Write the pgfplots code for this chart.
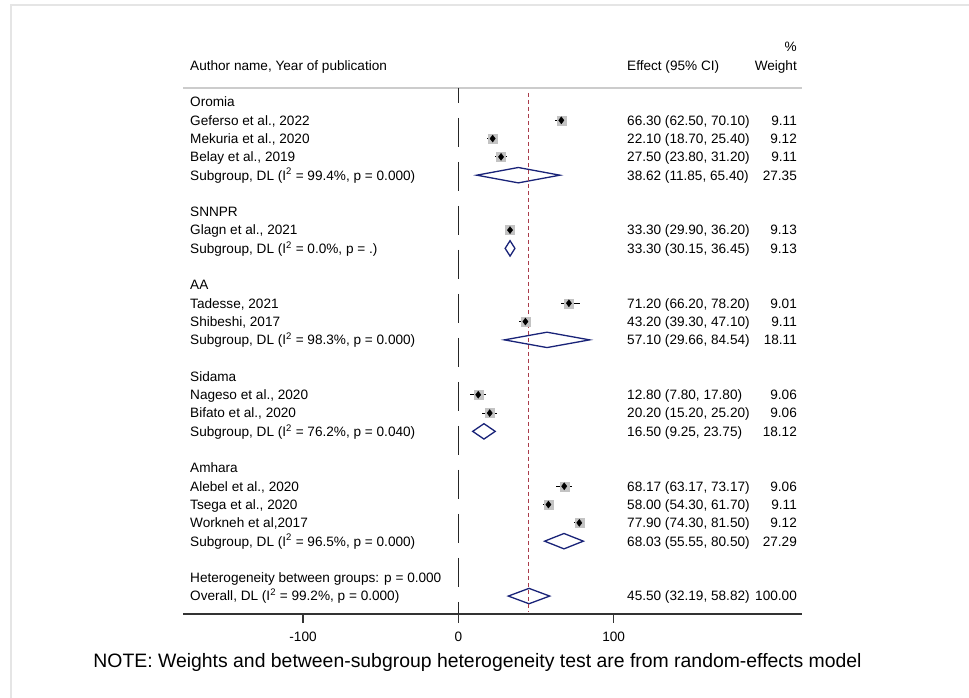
\documentclass[border=0pt]{standalone}
\usepackage{fontspec}
\setmainfont{Liberation Sans}
\usepackage{pgfplots}
\pgfplotsset{compat=1.18}
\usepackage{pgfplotstable}

\definecolor{dnavy}{RGB}{25,35,120}
\definecolor{refred}{RGB}{170,60,75}
\definecolor{boxgray}{RGB}{195,195,195}

\pgfplotstableread{
est lo hi row
66.30 62.50 70.10 2
22.10 18.70 25.40 3
27.50 23.80 31.20 4
33.30 29.90 36.20 8
71.20 66.20 78.20 12
43.20 39.30 47.10 13
12.80 7.80 17.80 17
20.20 15.20 25.20 18
68.17 63.17 73.17 22
58.00 54.30 61.70 23
77.90 74.30 81.50 24
}\studies

\newcommand{\tfont}{\fontsize{13.6}{16}\selectfont}
\newcommand{\lab}[2]{\node[anchor=base west, yshift=-4.9pt, inner sep=0, font=\tfont] at (axis cs:-172.8,-#1) {#2};}
\newcommand{\eff}[2]{\node[anchor=base west, yshift=-4.9pt, inner sep=0, font=\tfont] at (axis cs:108.6,-#1) {#2};}
\newcommand{\wt}[2]{\node[anchor=base east, yshift=-4.9pt, inner sep=0, font=\tfont] at (axis cs:218.1,-#1) {#2};}
\newcommand{\Isq}{I\textsuperscript{2}}

\begin{document}
\begin{tikzpicture}[x=1pt,y=1pt]
\useasboundingbox (0,0) rectangle (969,698);
\fill[white] (0,0) rectangle (969,698);
\draw[black!10, line width=1.5pt] (11,0) -- (11,693) -- (969,693);
\begin{axis}[
  at={(183pt,84pt)}, anchor=south west,
  scale only axis, width=619pt, height=526pt,
  xmin=-177.3, xmax=221.3, ymin=-28.98, ymax=-0.235,
  axis x line*=bottom, axis y line=none,
  x axis line style={black!80, line width=1.2pt, -},
  xtick={-100,0,100}, ytick=\empty,
  tick align=outside, major tick length=9pt,
  xtick style={black!80, line width=1.2pt},
  xticklabel style={font=\tfont, yshift=-5pt},
  /pgf/number format/assume math mode=true,
  clip=false,
]
% header separator
\addplot[black!20, line width=1.5pt] coordinates {(-177.3,-0.235) (221.3,-0.235)};
% null line
\addplot[black!85, line width=1.1pt, dash pattern=on 29pt off 15pt, dash phase=14pt] coordinates {(0,-0.235) (0,-28.98)};
% study boxes
\addplot[only marks, mark=square*, mark size=4.5pt, mark options={fill=boxgray, draw=boxgray}]
  table[x=est, y expr=-\thisrow{row}] {\studies};
% CIs and point markers
\addplot[only marks, mark=diamond*, mark size=3.5pt, mark options={fill=black, draw=black},
  error bars/.cd, x dir=both, x explicit, error mark=none,
  error bar style={black, line width=0.9pt}]
  table[x=est, y expr=-\thisrow{row},
        x error plus expr=\thisrow{hi}-\thisrow{est},
        x error minus expr=\thisrow{est}-\thisrow{lo}] {\studies};
% subgroup and overall diamonds
\addplot[dnavy, fill=white, line width=1.3pt] coordinates {(11.85,-5) (38.62,-4.58) (65.40,-5) (38.62,-5.42)} -- cycle;
\addplot[dnavy, fill=white, line width=1.3pt] coordinates {(30.15,-9) (33.30,-8.58) (36.45,-9) (33.30,-9.42)} -- cycle;
\addplot[dnavy, fill=white, line width=1.3pt] coordinates {(29.66,-14) (57.10,-13.58) (84.54,-14) (57.10,-14.42)} -- cycle;
\addplot[dnavy, fill=white, line width=1.3pt] coordinates {(9.25,-19) (16.50,-18.58) (23.75,-19) (16.50,-19.42)} -- cycle;
\addplot[dnavy, fill=white, line width=1.3pt] coordinates {(55.55,-25) (68.03,-24.58) (80.50,-25) (68.03,-25.42)} -- cycle;
\addplot[dnavy, fill=white, line width=1.3pt] coordinates {(32.19,-28) (45.50,-27.58) (58.82,-28) (45.50,-28.42)} -- cycle;
% overall effect line
\addplot[refred, line width=1pt, dash pattern=on 4pt off 3pt] coordinates {(45.5,-0.5) (45.5,-28.85)};

% headers
\lab{-0.968}{Author name, Year of publication}
\eff{-0.968}{Effect (95\% CI)}
\wt{-2.006}{\%}
\wt{-0.968}{Weight}

\lab{1}{Oromia}
\lab{2}{Geferso et al., 2022}\eff{2}{66.30 (62.50, 70.10)}\wt{2}{9.11}
\lab{3}{Mekuria et al., 2020}\eff{3}{22.10 (18.70, 25.40)}\wt{3}{9.12}
\lab{4}{Belay et al., 2019}\eff{4}{27.50 (23.80, 31.20)}\wt{4}{9.11}
\lab{5}{Subgroup, DL (\Isq{} = 99.4\%, p = 0.000)}\eff{5}{38.62 (11.85, 65.40)}\wt{5}{27.35}

\lab{7}{SNNPR}
\lab{8}{Glagn et al., 2021}\eff{8}{33.30 (29.90, 36.20)}\wt{8}{9.13}
\lab{9}{Subgroup, DL (\Isq{} = 0.0\%, p = .)}\eff{9}{33.30 (30.15, 36.45)}\wt{9}{9.13}

\lab{11}{AA}
\lab{12}{Tadesse, 2021}\eff{12}{71.20 (66.20, 78.20)}\wt{12}{9.01}
\lab{13}{Shibeshi, 2017}\eff{13}{43.20 (39.30, 47.10)}\wt{13}{9.11}
\lab{14}{Subgroup, DL (\Isq{} = 98.3\%, p = 0.000)}\eff{14}{57.10 (29.66, 84.54)}\wt{14}{18.11}

\lab{16}{Sidama}
\lab{17}{Nageso et al., 2020}\eff{17}{12.80 (7.80, 17.80)}\wt{17}{9.06}
\lab{18}{Bifato et al., 2020}\eff{18}{20.20 (15.20, 25.20)}\wt{18}{9.06}
\lab{19}{Subgroup, DL (\Isq{} = 76.2\%, p = 0.040)}\eff{19}{16.50 (9.25, 23.75)}\wt{19}{18.12}

\lab{21}{Amhara}
\lab{22}{Alebel et al., 2020}\eff{22}{68.17 (63.17, 73.17)}\wt{22}{9.06}
\lab{23}{Tsega et al., 2020}\eff{23}{58.00 (54.30, 61.70)}\wt{23}{9.11}
\lab{24}{Workneh et al,2017}\eff{24}{77.90 (74.30, 81.50)}\wt{24}{9.12}
\lab{25}{Subgroup, DL (\Isq{} = 96.5\%, p = 0.000)}\eff{25}{68.03 (55.55, 80.50)}\wt{25}{27.29}

\lab{27}{Heterogeneity between groups: p = 0.000}
\lab{28}{Overall, DL (\Isq{} = 99.2\%, p = 0.000)}\eff{28}{45.50 (32.19, 58.82)}\wt{28}{100.00}
\end{axis}
\node[font=\fontsize{19.4}{22}\selectfont] at (477.5,36) {NOTE: Weights and between-subgroup heterogeneity test are from random-effects model};
\end{tikzpicture}
\end{document}
